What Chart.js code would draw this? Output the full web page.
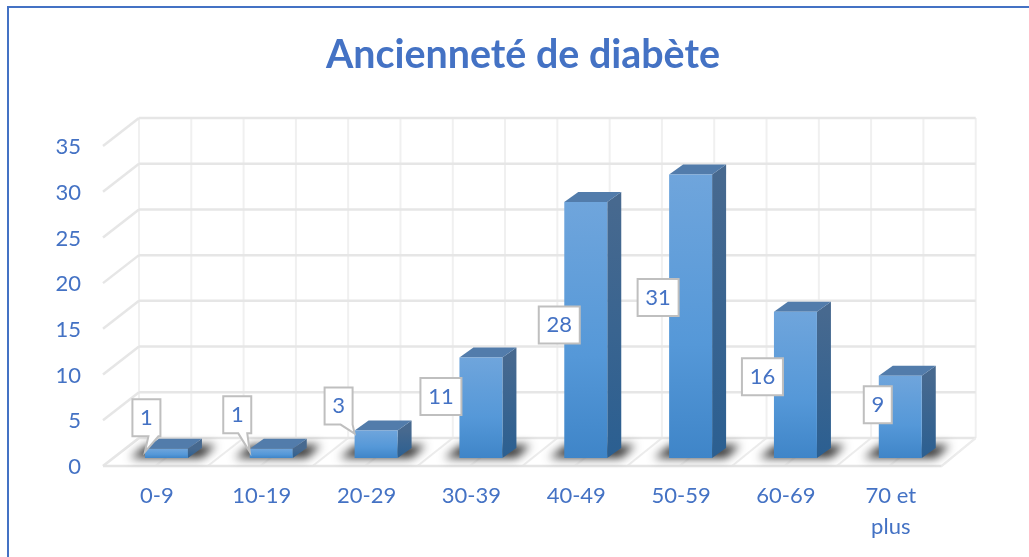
<!DOCTYPE html>
<html lang="fr">
<head>
<meta charset="utf-8">
<title>Ancienneté de diabète</title>
<script src="https://cdn.jsdelivr.net/npm/chart.js@4"></script>
<style>
  html, body { margin: 0; padding: 0; background: #fff; }
  canvas { display: block; }
</style>
</head>
<body>
<canvas id="chart" width="1029" height="557"></canvas>
<script>
// chart data
const categories = ['0-9', '10-19', '20-29', '30-39', '40-49', '50-59', '60-69', ['70 et', 'plus']];
const values = [1, 1, 3, 11, 28, 31, 16, 9];
const yTicks = [0, 5, 10, 15, 20, 25, 30, 35];

// callout placement, box centre relative to top centre of each bar
const calloutDx = [-20, -34, -37.5, -40, -26.5, -32.5, -33, -22.5];
const calloutDy = [-31, -34, -24.5, 39, 123, 123, 65, 29];
const calloutWide = [false, false, false, true, true, true, true, false];
const calloutTail = [[16, 26], [15, 24], [16, 28], null, null, null, null, null];

const BLUE = '#4472C4';
const FONT = 'Lato, Carlito, sans-serif';
const TITLE_CENTER = 523;
const DEPTH_X = 14;
const DEPTH_Y = 10;

const poly = (ctx, pts) => {
    ctx.beginPath();
    pts.forEach((p, i) => i ? ctx.lineTo(p[0], p[1]) : ctx.moveTo(p[0], p[1]));
    ctx.closePath();
};

const line = (ctx, x1, y1, x2, y2, color, width) => {
    ctx.strokeStyle = color;
    ctx.lineWidth = width;
    ctx.beginPath();
    ctx.moveTo(x1, y1);
    ctx.lineTo(x2, y2);
    ctx.stroke();
};

// blue frame around the chart, open on the right and bottom
const framePlugin = {
    id: 'frame',
    afterLayout(chart) {
        // title is centred on the whole picture, not on the space left by the padding
        chart.titleBlock.left = 0;
        chart.titleBlock.right = 2 * TITLE_CENTER;
    },
    beforeDraw(chart) {
        const ctx = chart.ctx;
        ctx.save();
        ctx.fillStyle = '#fff';
        ctx.fillRect(0, 0, chart.width, chart.height);
        line(ctx, 8, 7, 8, chart.height, BLUE, 2);
        line(ctx, 7, 7, chart.width, 7, BLUE, 2);
        ctx.restore();
    },
};

// 3d walls, floor, shadows and the side and top of each bar
const wallsPlugin = {
    id: 'walls',
    beforeDatasetsDraw(chart) {
        const ctx = chart.ctx;
        const { left, right } = chart.chartArea;
        const yScale = chart.scales.y;
        const base = yScale.getPixelForValue(0);
        const backL = left + 25, backR = right + 23;
        const frontL = left - 11, frontR = right - 11;
        ctx.save();
        ctx.lineCap = 'butt';

        // back wall and floor verticals, two per category
        for (let i = 0; i <= 16; i++) {
            const t = i / 16;
            const bx = backL + (backR - backL) * t;
            const fx = frontL + (frontR - frontL) * t;
            line(ctx, bx, yScale.getPixelForValue(35) - 20, bx, base - 20, '#f0f0f0', 2);
            line(ctx, bx, base - 20, fx, base + 8, i % 2 ? '#f6f6f6' : '#ececec', 2);
        }
        // horizontals on back wall and left side wall
        yTicks.forEach((v) => {
            const py = yScale.getPixelForValue(v);
            line(ctx, backL, py - 20, backR, py - 20, '#e6e6e6', 2.5);
            line(ctx, frontL, py + 8, backL, py - 20, '#e6e6e6', 2.5);
        });
        line(ctx, frontL, base + 8, frontR, base + 8, '#e4e4e4', 2.5);
        line(ctx, frontR, base + 8, backR, base - 20, '#ececec', 2);

        const bars = chart.getDatasetMeta(0).data;
        // floor shadows
        bars.forEach((bar) => {
            const l = bar.x - bar.width / 2, r = bar.x + bar.width / 2;
            ctx.save();
            ctx.filter = 'blur(5px)';
            ctx.fillStyle = 'rgba(30,30,30,0.9)';
            poly(ctx, [[l - 15, bar.base], [r + 14, bar.base], [r + 28, bar.base - 13], [l + 2, bar.base - 13]]);
            ctx.fill();
            ctx.restore();
        });
        // bar side and top faces
        bars.forEach((bar) => {
            const l = bar.x - bar.width / 2, r = bar.x + bar.width / 2;
            const side = ctx.createLinearGradient(0, bar.y, 0, bar.base);
            side.addColorStop(0, '#47698f');
            side.addColorStop(1, '#2b5f91');
            ctx.fillStyle = side;
            poly(ctx, [[r, bar.y], [r + DEPTH_X, bar.y - DEPTH_Y], [r + DEPTH_X, bar.base - DEPTH_Y], [r, bar.base]]);
            ctx.fill();
            ctx.fillStyle = '#527cab';
            poly(ctx, [[l, bar.y], [l + DEPTH_X, bar.y - DEPTH_Y], [r + DEPTH_X, bar.y - DEPTH_Y], [r, bar.y]]);
            ctx.fill();
        });
        ctx.restore();
    },
};

// value labels in white boxes, the small bars get a pointer
const calloutPlugin = {
    id: 'callouts',
    afterDatasetsDraw(chart) {
        const ctx = chart.ctx;
        const bars = chart.getDatasetMeta(0).data;
        ctx.save();
        bars.forEach((bar, i) => {
            const w = calloutWide[i] ? 41 : 28;
            const h = 37;
            const cx = bar.x + calloutDx[i], cy = bar.y + calloutDy[i];
            const l = cx - w / 2, t = cy - h / 2, b = cy + h / 2;
            const tail = calloutTail[i];
            ctx.beginPath();
            ctx.moveTo(l, t);
            ctx.lineTo(l + w, t);
            ctx.lineTo(l + w, b);
            if (tail) {
                ctx.lineTo(l + tail[1], b);
                ctx.lineTo(bar.x - bar.width / 2, bar.y + 3);
                ctx.lineTo(l + tail[0], b);
            }
            ctx.lineTo(l, b);
            ctx.closePath();
            ctx.fillStyle = '#fff';
            ctx.fill();
            ctx.strokeStyle = '#bfbfbf';
            ctx.lineWidth = 2;
            ctx.stroke();
            ctx.fillStyle = BLUE;
            ctx.font = '22px ' + FONT;
            ctx.textAlign = 'center';
            ctx.textBaseline = 'middle';
            ctx.fillText(String(values[i]), cx, cy);
        });
        ctx.restore();
    },
};

const barGradient = (context) => {
    const { chart, raw } = context;
    const yScale = chart.scales.y;
    if (!chart.chartArea || !yScale) return '#5b9bd5';
    const top = yScale.getPixelForValue(raw);
    const bottom = yScale.getPixelForValue(0);
    if (!isFinite(top) || !isFinite(bottom)) return '#5b9bd5';
    const g = chart.ctx.createLinearGradient(0, top, 0, bottom);
    g.addColorStop(0, '#6fa5dc');
    g.addColorStop(0.6, '#5598d8');
    g.addColorStop(1, '#3f85c8');
    return g;
};

new Chart(document.getElementById('chart').getContext('2d'), {
    type: 'bar',
    data: {
        labels: categories,
        datasets: [{
            label: 'Ancienneté de diabète',
            data: values,
            backgroundColor: barGradient,
            borderWidth: 0,
            barPercentage: 0.41,
            categoryPercentage: 1,
        }],
    },
    plugins: [framePlugin, wallsPlugin, calloutPlugin],
    options: {
        responsive: false,
        animation: false,
        layout: { padding: { left: 0, right: 76.3, top: 0, bottom: 0 } },
        plugins: {
            legend: { display: false },
            tooltip: { enabled: false },
            title: {
                display: true,
                text: 'Ancienneté de diabète',
                color: BLUE,
                font: { family: FONT, size: 39.4, weight: 'bold', lineHeight: 1.2 },
                padding: { top: 31.4, bottom: 59.3 },
            },
        },
        scales: {
            x: {
                grid: { display: false, drawTicks: false },
                border: { display: false },
                afterFit: (scale) => { scale.height = 99; },
                ticks: {
                    color: BLUE,
                    font: { family: FONT, size: 22, lineHeight: 1.4 },
                    padding: 23,
                    labelOffset: -9.5,
                    autoSkip: false,
                    maxRotation: 0,
                },
            },
            y: {
                min: 0,
                max: 35,
                grid: { display: false, drawTicks: false },
                border: { display: false },
                afterFit: (scale) => { scale.width = 114; },
                ticks: {
                    color: BLUE,
                    font: { family: FONT, size: 22 },
                    stepSize: 5,
                    padding: 33,
                    labelOffset: 9,
                },
            },
        },
    },
});
</script>
</body>
</html>
